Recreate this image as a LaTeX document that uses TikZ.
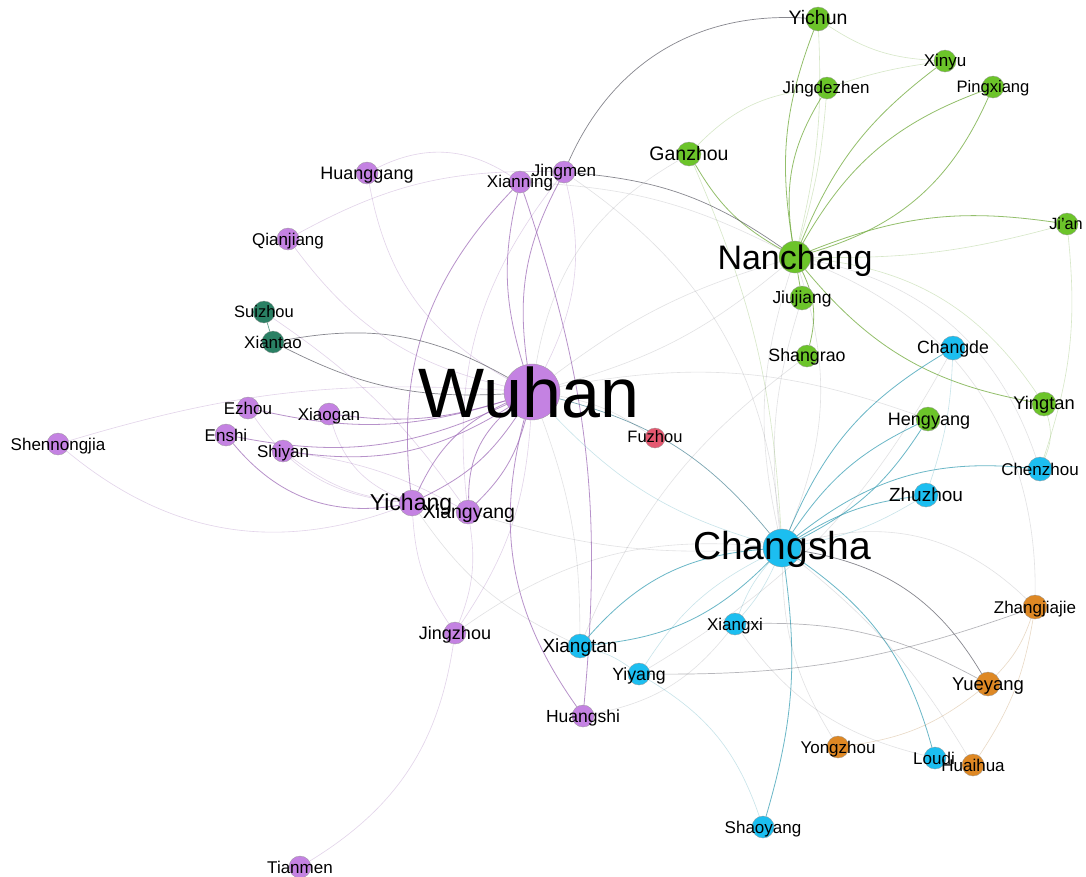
\documentclass[tikz,border=0pt]{standalone}
\usepackage{fontspec}
\setmainfont{Liberation Sans}
\pgfdeclarelayer{bg}
\pgfdeclarelayer{edges}
\pgfsetlayers{bg,edges,main}
\definecolor{hbP}{RGB}{196,130,226}
\definecolor{jxG}{RGB}{108,196,42}
\definecolor{hnB}{RGB}{28,190,240}
\definecolor{orN}{RGB}{222,136,36}
\definecolor{dkG}{RGB}{42,128,100}
\definecolor{rdP}{RGB}{228,88,112}
\definecolor{pE}{RGB}{160,110,185}
\definecolor{gE}{RGB}{120,175,70}
\definecolor{bE}{RGB}{70,165,185}
\definecolor{kE}{RGB}{95,95,105}
\definecolor{oE}{RGB}{200,160,110}
\tikzset{
  city/.style={circle, inner sep=0pt, minimum size=#1, draw=black!40, line width=0.3pt},
  hb/.style={city=#1, fill=hbP}, hb/.default=22,
  jx/.style={city=#1, fill=jxG}, jx/.default=22,
  hn/.style={city=#1, fill=hnB}, hn/.default=22,
  or/.style={city=#1, fill=orN}, or/.default=22,
  dg/.style={city=#1, fill=dkG}, dg/.default=22,
  fj/.style={city=#1, fill=rdP}, fj/.default=20,
  % label: baseline placed so that the capitals are centred on the given point
  lab/.style={font=\fontsize{#1}{#1}\selectfont, inner sep=0pt, anchor=base,
              yshift=-0.358*#1pt, text=black},
  lab/.default=17,
  pe/.style={draw=pE, line width=0.8pt, opacity=0.75},
  pf/.style={draw=pE, line width=0.6pt, opacity=0.3},
  ge/.style={draw=gE, line width=0.8pt, opacity=0.8},
  gf/.style={draw=gE, line width=0.6pt, opacity=0.3},
  be/.style={draw=bE, line width=0.8pt, opacity=0.8},
  bf/.style={draw=bE, line width=0.6pt, opacity=0.3},
  ke/.style={draw=kE, line width=0.7pt, opacity=0.75},
  kf/.style={draw=kE, line width=0.6pt, opacity=0.18},
  of/.style={draw=oE, line width=0.6pt, opacity=0.4},
}
\begin{document}
\begin{tikzpicture}[x=1pt,y=1pt]
\useasboundingbox (0,0) rectangle (1086,-876);
\begin{pgfonlayer}{bg}
  \fill[white] (0,0) rectangle (1086,-876);
\end{pgfonlayer}

% ---- Hubei
\node[hb=56] (wuhan) at (532,-392) {};
\node[hb=26] (yichang) at (412,-503) {};
\node[hb=24] (xiangyang) at (468,-512) {};
\node[hb] (xianning) at (520,-182) {};
\node[hb] (jingmen) at (564,-172) {};
\node[hb] (huanggang) at (367,-173) {};
\node[hb] (qianjiang) at (288,-239) {};
\node[dg] (suizhou) at (264,-312) {};
\node[dg] (xiantao) at (273,-342) {};
\node[hb] (ezhou) at (248,-408) {};
\node[hb] (xiaogan) at (329,-414) {};
\node[hb] (enshi) at (226,-435) {};
\node[hb] (shiyan) at (283,-451) {};
\node[hb] (shennongjia) at (58,-444) {};
\node[hb] (jingzhou) at (455,-633) {};
\node[hb] (huangshi) at (583,-716) {};
\node[hb] (tianmen) at (300,-867) {};
\node[fj] (fuzhou) at (655,-438) {};
% ---- Jiangxi
\node[jx=32] (nanchang) at (795,-257) {};
\node[jx=24] (yichun) at (818,-19) {};
\node[jx] (xinyu) at (945,-61) {};
\node[jx] (jingdezhen) at (827,-88) {};
\node[jx] (pingxiang) at (993,-87) {};
\node[jx=24] (ganzhou) at (689,-154) {};
\node[jx] (jian) at (1067,-224) {};
\node[jx=24] (jiujiang) at (802,-298) {};
\node[jx] (shangrao) at (807,-356) {};
\node[jx=24] (yingtan) at (1044,-404) {};
\node[jx=24] (hengyang) at (928,-419) {};
% ---- Hunan
\node[hn=38] (changsha) at (782,-548) {};
\node[hn=24] (changde) at (953,-348) {};
\node[hn=24] (chenzhou) at (1040,-469) {};
\node[hn=24] (zhuzhou) at (926,-495) {};
\node[hn] (xiangxi) at (735,-624) {};
\node[hn=24] (xiangtan) at (580,-646) {};
\node[hn] (yiyang) at (639,-674) {};
\node[hn] (loudi) at (935,-758) {};
\node[hn] (shaoyang) at (763,-827) {};
\node[or=24] (zhangjiajie) at (1035,-607) {};
\node[or=24] (yueyang) at (988,-684) {};
\node[or] (yongzhou) at (838,-747) {};
\node[or] (huaihua) at (973,-765) {};

% ---- links
\begin{pgfonlayer}{edges}
% Hubei links
\draw[pe] (ezhou) to[bend right=15] (wuhan);
\draw[pe] (xiaogan) to[bend right=12] (wuhan);
\draw[pe] (shiyan) to[bend right=20] (wuhan);
\draw[pe] (enshi) to[bend right=18] (wuhan);
\draw[pe] (enshi) to[bend right=30] (yichang);
\draw[pf] (shiyan) to[bend right=15] (yichang);
\draw[pf] (ezhou) to[bend right=25] (yichang);
\draw[pe] (yichang) to[bend left=20] (wuhan);
\draw[pe] (yichang) to[bend right=15] (wuhan);
\draw[pe] (xiangyang) to[bend right=15] (wuhan);
\draw[pe] (xiangyang) to[bend left=25] (wuhan);
\draw[pe] (xianning) to[bend right=15] (wuhan);
\draw[pe] (jingmen) to[bend right=18] (wuhan);
\draw[pf] (jingmen) to[bend left=20] (wuhan);
\draw[pe] (xianning) to[bend right=25] (yichang);
\draw[pf] (jingmen) to[bend right=22] (xiangyang);
\draw[pe] (wuhan) to[bend right=25] (huangshi);
\draw[pe] (xianning) to[bend left=12] (huangshi);
\draw[pf] (jingzhou) to[bend right=15] (wuhan);
\draw[pf] (jingzhou) to[bend left=15] (yichang);
\draw[pf] (jingzhou) to[bend right=15] (xiangyang);
\draw[pf] (jingzhou) to[bend left=25] (tianmen);
\draw[pf] (huanggang) to[bend right=25] (wuhan);
\draw[pf] (huanggang) to[bend left=30] (xianning);
\draw[pf] (qianjiang) to[bend right=20] (wuhan);
\draw[pf] (qianjiang) to[bend left=15] (jingmen);
\draw[ke] (xiantao) to[bend left=20] (wuhan);
\draw[ke] (xiantao) to[bend right=15] (wuhan);
\draw[ke, draw=dkG] (suizhou) -- (xiantao);
\draw[pf] (suizhou) to[bend left=10] (xiangyang);
\draw[pf] (shennongjia) to[bend right=30] (yichang);
\draw[pf] (shennongjia) to[bend left=10] (wuhan);
\draw[pf] (xiaogan) to[bend right=25] (yichang);
\draw[pf] (shiyan) to[bend left=10] (xiangyang);
% Jiangxi links
\draw[ge] (yichun) to[bend right=15] (nanchang);
\draw[ge] (jingdezhen) to[bend right=20] (nanchang);
\draw[ge] (xinyu) to[bend right=15] (nanchang);
\draw[ge] (pingxiang) to[bend right=20] (nanchang);
\draw[ge] (pingxiang) to[bend left=25] (nanchang);
\draw[ge] (ganzhou) to[bend right=15] (nanchang);
\draw[ge] (nanchang) to[bend left=15] (jian);
\draw[gf] (jian) to[bend left=8] (nanchang);
\draw[ge] (nanchang) to[bend right=20] (yingtan);
\draw[ge] (nanchang) to[bend left=20] (shangrao);
\draw[ge] (nanchang) -- (jiujiang);
\draw[gf] (yichun) to[bend right=15] (xinyu);
\draw[gf] (jingdezhen) to[bend left=5] (xinyu);
\draw[gf] (yichun) to[bend left=8] (nanchang);
\draw[gf] (jingdezhen) to[bend left=6] (nanchang);
\draw[gf] (ganzhou) to[bend left=20] (jingdezhen);
\draw[gf] (ganzhou) to[bend left=10] (changsha);
\draw[gf] (jian) to[bend left=12] (chenzhou);
\draw[gf] (yingtan) to[bend left=20] (chenzhou);
\draw[gf] (nanchang) to[bend left=25] (yingtan);
\draw[ke] (yichun) to[bend right=35] (jingmen);
\draw[ke] (jingmen) to[bend left=15] (nanchang);
\draw[kf] (xianning) to[bend left=12] (nanchang);
% Hunan links
\draw[be] (changsha) to[bend left=18] (changde);
\draw[be] (changsha) to[bend left=15] (hengyang);
\draw[be] (hengyang) to[bend left=15] (changsha);
\draw[be] (changsha) to[bend left=12] (zhuzhou);
\draw[bf] (zhuzhou) to[bend left=10] (changsha);
\draw[be] (changsha) to[bend left=22] (chenzhou);
\draw[be] (changsha) to[bend right=22] (xiangtan);
\draw[be] (xiangtan) to[bend right=20] (changsha);
\draw[be] (changsha) to[bend left=20] (loudi);
\draw[be] (changsha) to[bend left=12] (shaoyang);
\draw[ke] (changsha) to[bend left=25] (yueyang);
\draw[ke, draw=bE!60!kE] (wuhan) to[bend left=18] (changsha);
\draw[bf] (wuhan) to[bend right=15] (changsha);
\draw[ke, opacity=0.45] (xiangxi) to[bend left=15] (yueyang);
\draw[ke, opacity=0.45] (yiyang) to[bend right=10] (zhangjiajie);
\draw[bf] (yiyang) to[bend left=20] (shaoyang);
\draw[bf] (yiyang) to[bend left=15] (changsha);
\draw[bf] (xiangxi) to[bend left=10] (changsha);
\draw[bf] (changsha) to[bend left=8] (xiangxi);
\draw[bf] (changde) to[bend left=8] (zhuzhou);
\draw[bf] (xiangtan) to[bend left=10] (yiyang);
\draw[of] (yongzhou) to[bend right=15] (yueyang);
\draw[of] (yueyang) to[bend right=12] (zhangjiajie);
\draw[of] (zhangjiajie) to[bend left=12] (huaihua);
\draw[kf] (yongzhou) to[bend left=15] (changsha);
\draw[kf] (huaihua) to[bend right=10] (changsha);
\draw[kf] (loudi) to[bend left=20] (xiangxi);
\draw[kf] (changsha) to[bend left=30] (zhangjiajie);
% long-range links
\draw[kf] (nanchang) to[bend left=20] (changsha);
\draw[kf] (changsha) to[bend left=15] (nanchang);
\draw[kf] (nanchang) to[bend right=10] (wuhan);
\draw[kf] (wuhan) to[bend right=12] (nanchang);
\draw[kf] (nanchang) to[bend left=35] (zhangjiajie);
\draw[kf] (jingmen) to[bend left=25] (changsha);
\draw[kf] (xiangyang) to[bend right=10] (changsha);
\draw[kf] (yichang) to[bend right=15] (xiangtan);
\draw[kf] (wuhan) to[bend left=10] (xiangtan);
\draw[kf] (huangshi) to[bend right=20] (xiangxi);
\draw[kf] (jingzhou) to[bend left=20] (changsha);
\draw[kf] (wuhan) to[bend left=15] (hengyang);
\draw[kf] (nanchang) to[bend left=30] (chenzhou);
\draw[kf] (shangrao) to[bend right=15] (xiangtan);
\draw[kf] (jiujiang) to[bend right=12] (changsha);
\draw[kf] (ganzhou) to[bend right=25] (wuhan);
\draw[kf] (changde) to[bend left=15] (yiyang);
\draw[kf] (wuhan) to[bend left=12] (fuzhou);
\end{pgfonlayer}

% ---- labels
\node[lab=70] (wuhan-t) at (529,-392) {Wuhan};
\node[lab=34] (nanchang-t) at (795,-257) {Nanchang};
\node[lab=39] (changsha-t) at (782,-546) {Changsha};
\node[lab=23] (yichang-t) at (411,-502) {Yichang};
\node[lab=19.5] (xiangyang-t) at (469,-512) {Xiangyang};
\node[lab] (xianning-t) at (520,-181) {Xianning};
\node[lab] (jingmen-t) at (564,-170) {Jingmen};
\node[lab=18] (huanggang-t) at (367,-173) {Huanggang};
\node[lab] (qianjiang-t) at (288,-239) {Qianjiang};
\node[lab=16.5] (suizhou-t) at (264,-312) {Suizhou};
\node[lab] (xiantao-t) at (273,-342) {Xiantao};
\node[lab] (ezhou-t) at (248,-408) {Ezhou};
\node[lab] (xiaogan-t) at (329,-414) {Xiaogan};
\node[lab] (enshi-t) at (226,-435) {Enshi};
\node[lab] (shiyan-t) at (283,-451) {Shiyan};
\node[lab] (shennongjia-t) at (58,-444) {Shennongjia};
\node[lab=18] (jingzhou-t) at (455,-633) {Jingzhou};
\node[lab=17.5] (huangshi-t) at (583,-716) {Huangshi};
\node[lab] (tianmen-t) at (300,-867) {Tianmen};
\node[lab=16.5] (fuzhou-t) at (655,-437) {Fuzhou};
\node[lab=19.5] (yichun-t) at (818,-18) {Yichun};
\node[lab] (xinyu-t) at (945,-60) {Xinyu};
\node[lab] (jingdezhen-t) at (826,-87) {Jingdezhen};
\node[lab=16.6] (pingxiang-t) at (993,-87) {Pingxiang};
\node[lab=19.5] (ganzhou-t) at (689,-154) {Ganzhou};
\node[lab=16.3] (jian-t) at (1066,-224) {Ji'an};
\node[lab=17.4] (jiujiang-t) at (802,-297) {Jiujiang};
\node[lab=17.8] (shangrao-t) at (807,-355) {Shangrao};
\node[lab=18.3] (yingtan-t) at (1044,-403) {Yingtan};
\node[lab=18] (hengyang-t) at (929,-419) {Hengyang};
\node[lab=17.7] (changde-t) at (953,-347) {Changde};
\node[lab] (chenzhou-t) at (1040,-469) {Chenzhou};
\node[lab=19] (zhuzhou-t) at (926,-495) {Zhuzhou};
\node[lab] (zhangjiajie-t) at (1035,-607) {Zhangjiajie};
\node[lab] (xiangxi-t) at (735,-624) {Xiangxi};
\node[lab=19] (xiangtan-t) at (580,-646) {Xiangtan};
\node[lab=17.7] (yiyang-t) at (639,-674) {Yiyang};
\node[lab=18.5] (yueyang-t) at (988,-684) {Yueyang};
\node[lab] (yongzhou-t) at (838,-747) {Yongzhou};
\node[lab] (loudi-t) at (934,-758) {Loudi};
\node[lab] (huaihua-t) at (973,-765) {Huaihua};
\node[lab] (shaoyang-t) at (763,-827) {Shaoyang};
\end{tikzpicture}
\end{document}
